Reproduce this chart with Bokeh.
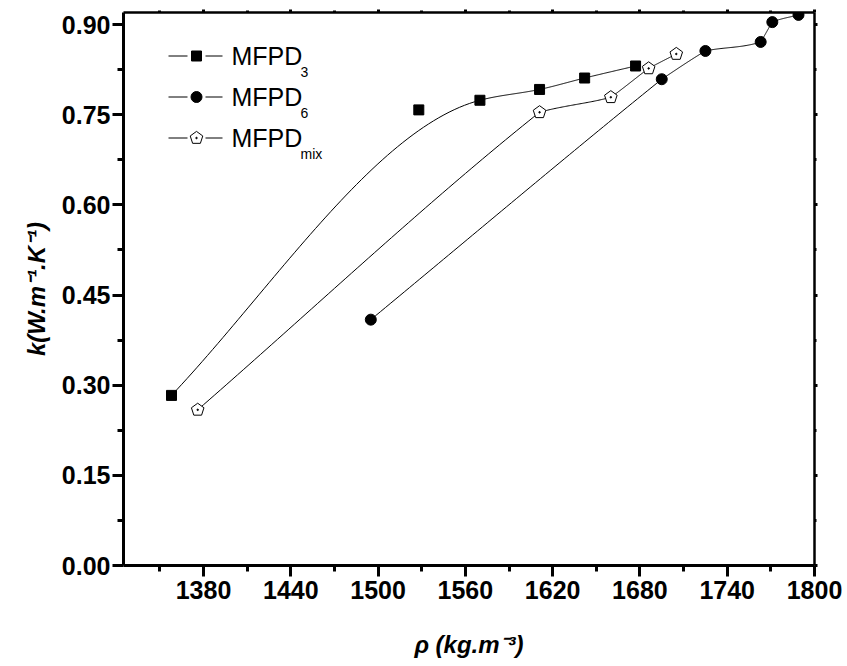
import numpy as np
from bokeh.plotting import figure
from bokeh.models import (Range1d, LinearAxis, FixedTicker, NumeralTickFormatter,
                          CustomJSTickFormatter, Label)
from bokeh.embed import file_html
from bokeh.resources import INLINE

# ---------------- data ----------------
mfpd3_rho = [1358, 1528, 1570, 1611, 1642, 1677]
mfpd3_k = [0.283, 0.758, 0.774, 0.792, 0.811, 0.831]
mfpd3_on_curve = [True, False, True, True, True, True]

mfpd6_rho = [1495, 1695, 1725, 1763, 1771, 1789]
mfpd6_k = [0.409, 0.809, 0.856, 0.871, 0.904, 0.916]

mfpdmix_rho = [1376, 1611, 1660, 1686, 1705]
mfpdmix_k = [0.259, 0.754, 0.779, 0.827, 0.851]

series_names = ["MFPD", "MFPD", "MFPD"]
series_subs = ["3", "6", "mix"]

x_major = [1380, 1440, 1500, 1560, 1620, 1680, 1740, 1800]
y_major = [0.00, 0.15, 0.30, 0.45, 0.60, 0.75, 0.90]
x_label = "\u03c1 (kg.m\u207b\u00b3)"
y_label = "k(W.m\u207b\u00b9.K\u207b\u00b9)"

# curve style per series: "pchip" = smooth through points, "local" = nearly straight segments
curve_modes = ["pchip", "local", "local"]

# ---------------- layout ----------------
X0, X1 = 1325, 1800
Y0, Y1 = 0.0, 0.92
FW, FH = 691, 553
SX = FW / (X1 - X0)
SY = FH / (Y1 - Y0)
FONT = "Liberation Sans"


def fx(px):
    return X0 + px / SX


def fy(py):
    return Y1 - py / SY


def smooth(xs, ys, mode, n=60):
    x = np.asarray(xs, float)
    y = np.asarray(ys, float)
    h = np.diff(x)
    d = np.diff(y) / h
    N = len(h)
    ms = d.copy()
    me = d.copy()
    for i in range(1, len(x) - 1):
        if mode == "pchip":
            if d[i - 1] * d[i] <= 0:
                m = 0.0
            else:
                w1 = 2 * h[i] + h[i - 1]
                w2 = h[i] + 2 * h[i - 1]
                m = (w1 + w2) / (w1 / d[i - 1] + w2 / d[i])
            me[i - 1] = m
            ms[i] = m
        else:
            w = 8.0
            me[i - 1] = (w * d[i - 1] + d[i]) / (w + 1)
            ms[i] = (w * d[i] + d[i - 1]) / (w + 1)
    if mode == "pchip" and N > 1:
        nat0 = (3 * d[0] - me[0]) / 2
        ms[0] = d[0] + 0.3 * (nat0 - d[0])
        natN = (3 * d[-1] - ms[-1]) / 2
        me[-1] = d[-1] + 0.3 * (natN - d[-1])
    X, Y = [], []
    for i in range(N):
        t = np.linspace(0, 1, n, endpoint=(i == N - 1))
        h00 = 2 * t**3 - 3 * t**2 + 1
        h10 = t**3 - 2 * t**2 + t
        h01 = -2 * t**3 + 3 * t**2
        h11 = t**3 - t**2
        X.extend(x[i] + t * h[i])
        Y.extend(h00 * y[i] + h10 * h[i] * ms[i] + h01 * y[i + 1] + h11 * h[i] * me[i])
    return X, Y


def pentagons(xs, ys, r=6.6):
    ang = np.deg2rad(90 + 72 * np.arange(5))
    px = [list(x + r * np.cos(ang) / SX) for x in xs]
    py = [list(y + r * np.sin(ang) / SY) for y in ys]
    return px, py


p = figure(frame_width=FW, frame_height=FH,
           x_range=Range1d(X0, X1), y_range=Range1d(Y0, Y1),
           output_backend="svg", toolbar_location=None,
           x_axis_type=None, y_axis_type=None,
           min_border_left=123, min_border_top=12,
           min_border_right=33, min_border_bottom=101)
p.outline_line_color = None
p.xgrid.visible = False
p.ygrid.visible = False
p.background_fill_color = "white"
p.border_fill_color = "white"

x_minor = [v - 30 for v in x_major]
y_minor = [round(v + 0.075, 3) for v in y_major[:-1]]
xt = FixedTicker(ticks=x_major, minor_ticks=x_minor)
yt = FixedTicker(ticks=y_major, minor_ticks=y_minor)
empty = CustomJSTickFormatter(code="return ''")


def style(ax, major_out, minor_out):
    ax.axis_line_width = 3
    ax.major_tick_line_width = 3
    ax.minor_tick_line_width = 3
    ax.major_tick_in = 0
    ax.minor_tick_in = 0
    ax.major_tick_out = major_out
    ax.minor_tick_out = minor_out
    ax.major_label_text_font = FONT
    ax.major_label_text_font_style = "bold"
    ax.major_label_text_font_size = "25px"
    ax.major_label_text_color = "black"
    ax.axis_label_text_font = FONT
    ax.axis_label_text_font_style = "bold italic"
    ax.axis_label_text_font_size = "24px"
    ax.axis_label_text_color = "black"


xb = LinearAxis(ticker=xt, formatter=NumeralTickFormatter(format="0"), axis_label=x_label)
style(xb, 11, 6)
xb.major_label_standoff = 4
xb.axis_label_standoff = 29
p.add_layout(xb, "below")

yl = LinearAxis(ticker=yt, formatter=NumeralTickFormatter(format="0.00"), axis_label=y_label)
style(yl, 11, 6)
yl.major_label_standoff = 2
yl.axis_label_standoff = 9
p.add_layout(yl, "left")

xa = LinearAxis(ticker=xt, formatter=empty)
style(xa, 3, 2)
xa.axis_line_width = 2.5
p.add_layout(xa, "above")

yr = LinearAxis(ticker=yt, formatter=empty)
style(yr, 3, 2)
yr.axis_line_width = 2.5
p.add_layout(yr, "right")

# ---------------- curves ----------------
cx = [x for x, keep in zip(mfpd3_rho, mfpd3_on_curve) if keep]
cy = [y for y, keep in zip(mfpd3_k, mfpd3_on_curve) if keep]
for (xs, ys), mode in zip([(cx, cy), (mfpd6_rho, mfpd6_k), (mfpdmix_rho, mfpdmix_k)], curve_modes):
    sx_, sy_ = smooth(xs, ys, mode)
    p.line(sx_, sy_, line_color="black", line_width=1)

# ---------------- markers ----------------
p.scatter(mfpd3_rho, mfpd3_k, marker="square", size=10, fill_color="black", line_color="black")
p.scatter(mfpd6_rho, mfpd6_k, marker="circle", size=11, fill_color="black", line_color="black")
pxs, pys = pentagons(mfpdmix_rho, mfpdmix_k)
p.patches(pxs, pys, fill_color="white", line_color="black", line_width=1)
p.scatter(mfpdmix_rho, mfpdmix_k, marker="circle", size=1.5, fill_color="black", line_color="black")

# ---------------- legend (drawn) ----------------
rows = [43.5, 84.5, 125.5]
mk_x = 73
for i, ry in enumerate(rows):
    for a, b in [(45, 64), (82, 99)]:
        p.line([fx(a), fx(b)], [fy(ry), fy(ry)], line_color="black", line_width=1)
    if i == 0:
        p.scatter([fx(mk_x)], [fy(ry)], marker="square", size=10, fill_color="black", line_color="black")
    elif i == 1:
        p.scatter([fx(mk_x)], [fy(ry)], marker="circle", size=11, fill_color="black", line_color="black")
    else:
        lx, ly = pentagons([fx(mk_x)], [fy(ry)])
        p.patches(lx, ly, fill_color="white", line_color="black", line_width=1)
        p.scatter([fx(mk_x)], [fy(ry)], marker="circle", size=1.5, fill_color="black", line_color="black")
    p.add_layout(Label(x=fx(108), y=fy(ry), text=series_names[i], text_font=FONT,
                       text_font_size="25px", text_baseline="middle", text_color="black"))
    p.add_layout(Label(x=fx(177), y=fy(ry + 16), text=series_subs[i], text_font=FONT,
                       text_font_size="14px", text_baseline="middle", text_color="black"))

open("out.html", "w").write(file_html(p, INLINE))
